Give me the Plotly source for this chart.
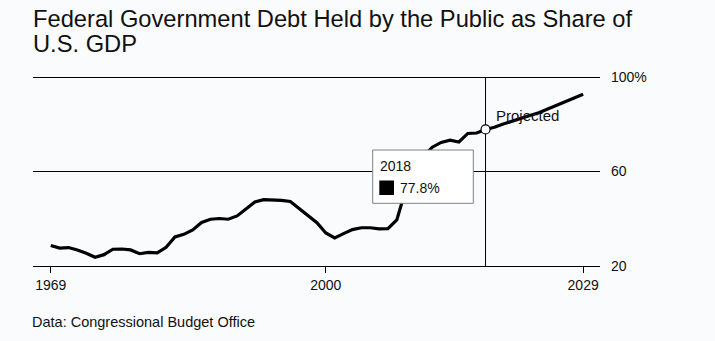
import plotly.graph_objects as go

# ---- data ----
years = list(range(1969, 2030))
debt_share = [
    28.7, 27.6, 27.8, 26.8, 25.4, 23.7, 24.8, 27.1, 27.2, 26.8,   # 1969-1978
    25.2, 25.8, 25.6, 27.9, 32.3, 33.4, 35.3, 38.4, 39.8, 40.1,   # 1979-1988
    39.8, 41.2, 44.1, 47.1, 48.1, 48.1, 47.8, 47.3, 44.4, 41.1,   # 1989-1998
    38.3, 34.0, 31.9, 33.7, 35.4, 36.2, 36.2, 35.7, 35.8, 39.5,   # 1999-2008
    52.3, 60.9, 66.5, 70.3, 72.3, 73.3, 72.5, 76.1, 76.3, 77.8,   # 2009-2018
    78.7, 80.1, 81.4, 82.7, 83.7, 84.9, 86.5, 88.0, 89.5, 91.0,   # 2019-2028
    92.7,                                                         # 2029
]
highlight_year = 2018
highlight_value = 77.8
x_tick_vals = [1969, 2000, 2029]
x_tick_text = ["1969", "2000", "2029"]
y_tick_vals = [20, 60, 100]
y_tick_text = ["20", "60", "100%"]

title_lines = ["Federal Government Debt Held by the Public as Share of", "U.S. GDP"]
source_text = "Data: Congressional Budget Office"
projected_label = "Projected"

# ---- layout geometry (pixels) ----
W, H = 715, 341
L, R, T, B = 33, 600, 76, 266
pw, ph = R - L, B - T


def px(xp):
    return (xp - L) / pw


def py(yp):
    return (B - yp) / ph


BG = "#f9fbfd"
FONT = "Liberation Sans, Arial, Helvetica, sans-serif"
INK = "#111111"

fig = go.Figure()
fig.add_trace(go.Scatter(
    x=years, y=debt_share, mode="lines",
    line=dict(color="#000000", width=3.2, shape="linear"),
    hoverinfo="skip", showlegend=False, cliponaxis=False,
))
fig.add_trace(go.Scatter(
    x=[highlight_year], y=[highlight_value], mode="markers",
    marker=dict(size=9, color="#ffffff", line=dict(color="#000000", width=1.2)),
    hoverinfo="skip", showlegend=False, cliponaxis=False,
))

shapes = [
    # vertical line at the highlighted year
    dict(type="line", xref="x", yref="y", x0=highlight_year, x1=highlight_year,
         y0=20, y1=100, line=dict(color="#000000", width=1), layer="below"),
    # tooltip box
    dict(type="rect", xref="paper", yref="paper",
         x0=px(372.7), x1=px(473.3), y0=py(203.3), y1=py(150),
         fillcolor="#ffffff", line=dict(color="#808080", width=1), layer="above"),
    # black legend square
    dict(type="rect", xref="paper", yref="paper",
         x0=px(379.3), x1=px(394), y0=py(195), y1=py(180.5),
         fillcolor="#000000", line=dict(width=0), layer="above"),
]

annotations = [
    dict(text=title_lines[0], xref="paper", yref="paper", x=px(31), y=py(18.5),
         xanchor="left", yanchor="middle", showarrow=False,
         font=dict(family=FONT, size=23.7, color=INK)),
    dict(text=title_lines[1], xref="paper", yref="paper", x=px(31), y=py(43.5),
         xanchor="left", yanchor="middle", showarrow=False,
         font=dict(family=FONT, size=23.7, color=INK)),
    dict(text=source_text, xref="paper", yref="paper", x=px(29.5), y=py(322),
         xanchor="left", yanchor="middle", showarrow=False,
         font=dict(family=FONT, size=14.5, color=INK)),
    dict(text=str(highlight_year), xref="paper", yref="paper", x=px(377.5), y=py(165.7),
         xanchor="left", yanchor="middle", showarrow=False,
         font=dict(family=FONT, size=14, color=INK)),
    dict(text=f"{highlight_value}%", xref="paper", yref="paper", x=px(397.5), y=py(187.5),
         xanchor="left", yanchor="middle", showarrow=False,
         font=dict(family=FONT, size=14, color=INK)),
    dict(text=projected_label, xref="paper", yref="paper", x=px(493.5), y=py(115.5),
         xanchor="left", yanchor="middle", showarrow=False,
         font=dict(family=FONT, size=15, color=INK)),
]

fig.update_layout(
    width=W, height=H,
    margin=dict(l=L, r=W - R, t=T, b=H - B, pad=0),
    paper_bgcolor=BG, plot_bgcolor=BG,
    showlegend=False,
    shapes=shapes, annotations=annotations,
    xaxis=dict(
        range=[1967.0, 2030.9], tickmode="array", tickvals=x_tick_vals, ticktext=x_tick_text,
        showgrid=False, zeroline=False, showline=True, linecolor="#000000", linewidth=1,
        ticks="outside", ticklen=6, tickwidth=1, tickcolor="#000000",
        tickfont=dict(family=FONT, size=14, color=INK), fixedrange=True,
    ),
    yaxis=dict(
        range=[20, 100.43], side="right", tickmode="array", tickvals=y_tick_vals, ticktext=y_tick_text,
        showgrid=True, gridcolor="#000000", gridwidth=1, zeroline=False, showline=False,
        ticks="", ticklabelstandoff=10,
        tickfont=dict(family=FONT, size=14, color=INK), fixedrange=True,
    ),
    hovermode=False,
)

fig.write_html("out.html", config={"displayModeBar": False, "staticPlot": True})
